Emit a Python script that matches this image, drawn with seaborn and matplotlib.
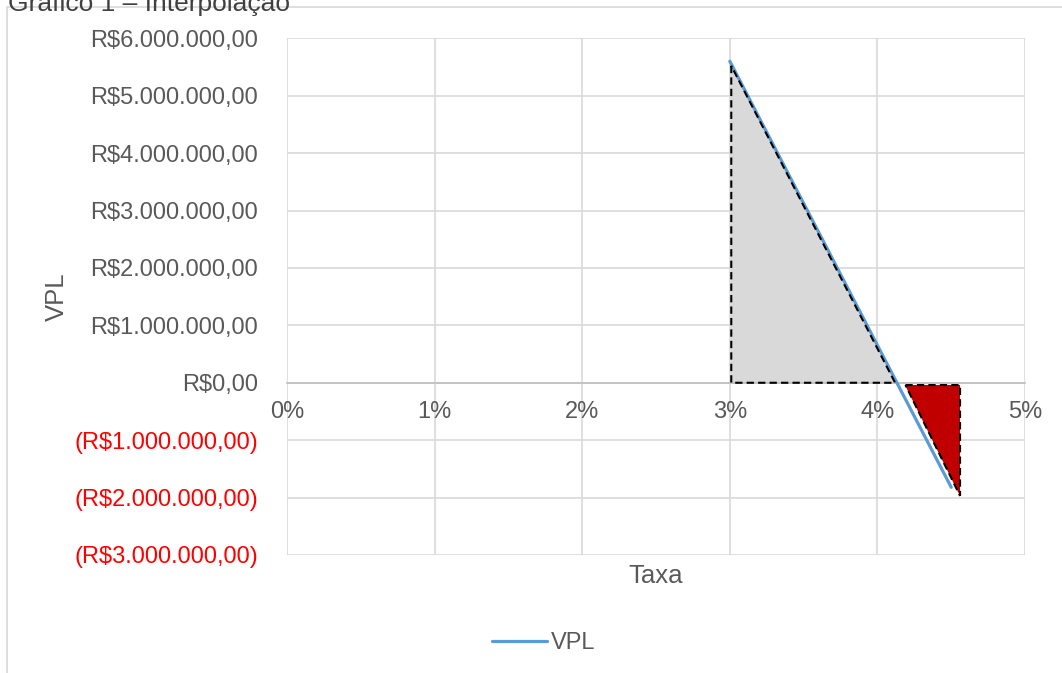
import matplotlib
matplotlib.use("Agg")
import matplotlib.pyplot as plt
from matplotlib.patches import Rectangle, Polygon
import seaborn as sns
import pandas as pd

# VPL curve (rate in %, value in R$)
taxa = [3.0, 4.5]
vpl = [5_600_000, -1_820_000]

# Interpolation triangles (rate in %, value in R$)
tri_pos_x = [3.01, 3.01, 4.12]
tri_pos_y = [5_520_000, 0, 0]
tri_neg_x = [4.19, 4.56, 4.56]
tri_neg_y = [-40_000, -40_000, -1_970_000]

x_ticks = [0, 1, 2, 3, 4, 5]
x_labels = ["0%", "1%", "2%", "3%", "4%", "5%"]
y_ticks = [6e6, 5e6, 4e6, 3e6, 2e6, 1e6, 0, -1e6, -2e6, -3e6]
y_labels = ["R$6.000.000,00", "R$5.000.000,00", "R$4.000.000,00",
            "R$3.000.000,00", "R$2.000.000,00", "R$1.000.000,00",
            "R$0,00", "(R$1.000.000,00)", "(R$2.000.000,00)",
            "(R$3.000.000,00)"]

sns.set_theme(style="white")
plt.rcParams["font.family"] = ["Liberation Sans", "DejaVu Sans"]

W, H = 1062, 673
fig = plt.figure(figsize=(W / 100, H / 100), dpi=100)
ax = fig.add_axes([287 / W, 1 - 555 / H, (1025 - 287) / W, (555 - 38.3) / H])

TXT = "#595959"
GRID = "#d9d9d9"

# Outer chart frame
fig.patches.append(Rectangle((7 / W, -0.1), 1.2, 1 - 7.5 / H + 0.1,
                             transform=fig.transFigure, fill=False,
                             edgecolor=GRID, linewidth=1.2, zorder=0))

fig.text(8 / W, 1 - 10.5 / H, "Gráfico 1 – Interpolação", fontsize=19,
         color="#404040", ha="left", va="baseline")

# Triangles: fill
ax.add_patch(Polygon(list(zip(tri_pos_x, tri_pos_y)), closed=True,
                     facecolor="#d9d9d9", edgecolor="none", zorder=2))
ax.add_patch(Polygon(list(zip(tri_neg_x, tri_neg_y)), closed=True,
                     facecolor="#c00000", edgecolor="none", zorder=2))

df = pd.DataFrame({"Taxa": taxa, "VPL": vpl})
sns.lineplot(data=df, x="Taxa", y="VPL", ax=ax, color="#5b9bd5",
             linewidth=2.3, label="VPL", zorder=3, legend=False)

# Triangles: dashed outlines
for xs, ys in ((tri_pos_x, tri_pos_y), (tri_neg_x, tri_neg_y)):
    ax.add_patch(Polygon(list(zip(xs, ys)), closed=True, fill=False,
                         edgecolor="black", linewidth=1.5,
                         linestyle=(0, (3.5, 2)), zorder=4))

ax.set_xlim(0, 5)
ax.set_ylim(-3e6, 6e6)
ax.set_xticks(x_ticks)
ax.set_xticklabels(x_labels)
ax.set_yticks(y_ticks)
ax.set_yticklabels(y_labels)
ax.grid(True, color=GRID, linewidth=1.2)
ax.set_axisbelow(True)
ax.set_xlabel("")
ax.set_ylabel("")

for side in ("top", "right", "left"):
    ax.spines[side].set_visible(False)
ax.spines["bottom"].set_position(("data", 0))
ax.spines["bottom"].set_color("#bfbfbf")
ax.spines["bottom"].set_linewidth(1.2)

ax.tick_params(axis="x", length=0, pad=13, labelsize=17, labelcolor=TXT)
ax.tick_params(axis="y", length=0, pad=21, labelsize=17, labelcolor=TXT)
for lbl, v in zip(ax.get_yticklabels(), y_ticks):
    if v < 0:
        lbl.set_color("#ff0000")

fig.text(656 / W, 1 - 583 / H, "Taxa", fontsize=18.5, color=TXT,
         ha="center", va="baseline")
fig.text(57 / W, 1 - 297 / H, "VPL", fontsize=18.5, color=TXT,
         ha="center", va="center", rotation=90)

handles, labels = ax.get_legend_handles_labels()
leg = fig.legend(handles, labels, loc="center", bbox_to_anchor=(544 / W, 1 - 643 / H),
                 frameon=False, fontsize=17, handlelength=2.3, handletextpad=0.2)
for t in leg.get_texts():
    t.set_color(TXT)

fig.savefig("out.png", dpi=100, facecolor="white")
